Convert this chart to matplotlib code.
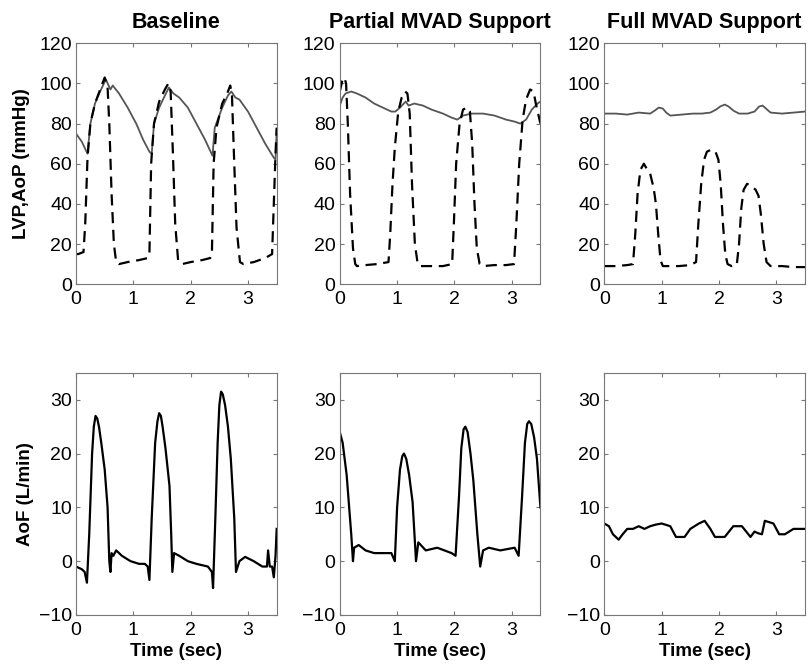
import numpy as np
import matplotlib.pyplot as plt

plt.rcParams['font.family'] = ['Liberation Sans', 'DejaVu Sans']

titles = ["Baseline", "Partial MVAD Support", "Full MVAD Support"]

# pressure traces (top row): time (s), LVP (dashed), AoP (grey)
lvp_t = [
    [0.0, 0.04, 0.13, 0.16, 0.2, 0.25, 0.33, 0.42, 0.5, 0.55, 0.58, 0.62, 0.66, 0.7, 0.75, 0.9, 1.1, 1.25, 1.28,
     1.31, 1.36, 1.45, 1.55, 1.61, 1.65, 1.69, 1.73, 1.78, 1.85, 2.0, 2.2, 2.34, 2.37, 2.4, 2.45, 2.55, 2.65,
     2.69, 2.72, 2.76, 2.8, 2.86, 2.92, 3.1, 3.3, 3.42, 3.45, 3.48, 3.5],
    [0.0, 0.04, 0.08, 0.11, 0.14, 0.18, 0.23, 0.27, 0.3, 0.45, 0.65, 0.85, 0.88, 0.92, 0.96, 1.02, 1.08, 1.14,
     1.18, 1.22, 1.26, 1.31, 1.36, 1.41, 1.45, 1.6, 1.8, 1.96, 1.99, 2.03, 2.09, 2.15, 2.22, 2.27, 2.31, 2.35,
     2.39, 2.44, 2.5, 2.7, 2.9, 3.04, 3.08, 3.13, 3.19, 3.25, 3.32, 3.38, 3.42, 3.46, 3.5],
    [0.0, 0.2, 0.4, 0.5, 0.54, 0.58, 0.63, 0.69, 0.73, 0.8, 0.86, 0.9, 0.94, 0.98, 1.02, 1.1, 1.3, 1.5, 1.6,
     1.64, 1.69, 1.74, 1.79, 1.86, 1.94, 1.99, 2.03, 2.07, 2.11, 2.15, 2.22, 2.31, 2.35, 2.39, 2.43, 2.49,
     2.56, 2.64, 2.69, 2.73, 2.78, 2.83, 2.9, 3.1, 3.3, 3.5],
]
lvp_p = [
    [15, 15, 16, 30, 63, 80, 90, 97, 103, 98, 80, 45, 20, 11, 10, 11, 12, 13, 15,
     60, 80, 91, 97, 100, 96, 65, 30, 12, 10, 11, 12, 13, 15, 60, 78, 90, 96,
     99, 94, 60, 28, 11, 10, 11, 13, 15, 40, 65, 78],
    [96, 101, 103, 100, 80, 45, 18, 10, 9, 9.5, 10, 11, 25, 50, 68, 86, 93, 96,
     95, 85, 50, 20, 10, 9, 9, 9, 9, 10, 30, 60, 80, 87, 88, 86, 70,
     40, 18, 10, 9, 9.5, 9.5, 10, 30, 60, 82, 92, 97, 96, 90, 85, 80],
    [9, 9, 9.5, 10, 25, 45, 57, 60, 58, 55, 48, 40, 25, 12, 9, 9, 9, 9.5, 11,
     30, 50, 62, 66, 67, 66, 62, 50, 30, 15, 10, 9, 9.5, 20, 38, 47, 50,
     49, 47, 44, 35, 20, 11, 9, 9, 8.5, 8.5],
]
aop_t = [
    [0.0, 0.1, 0.2, 0.25, 0.33, 0.42, 0.52, 0.6, 0.64, 0.75, 0.9, 1.05, 1.17, 1.28, 1.32, 1.36, 1.45, 1.55, 1.62,
     1.7, 1.8, 1.95, 2.1, 2.25, 2.38, 2.42, 2.55, 2.65, 2.71, 2.78, 2.85, 3.0, 3.15, 3.3, 3.45, 3.48, 3.5],
    [0.0, 0.05, 0.1, 0.2, 0.3, 0.45, 0.6, 0.75, 0.9, 0.97, 1.05, 1.15, 1.2, 1.3, 1.45, 1.6, 1.8, 1.95, 2.05,
     2.15, 2.3, 2.5, 2.7, 2.9, 3.05, 3.15, 3.25, 3.35, 3.45, 3.5],
    [0.0, 0.2, 0.4, 0.6, 0.8, 0.88, 0.95, 1.02, 1.08, 1.15, 1.35, 1.55, 1.7, 1.85, 1.95, 2.02, 2.1, 2.17, 2.25,
     2.35, 2.5, 2.62, 2.7, 2.76, 2.82, 2.9, 3.1, 3.3, 3.5],
]
aop_p = [
    [75, 71, 65, 80, 90, 96, 102, 97, 99, 95, 88, 80, 72, 66, 65, 80, 88, 94, 98,
     95, 93, 88, 80, 72, 64, 78, 88, 94, 96, 93, 92, 86, 78, 70, 63, 62, 77],
    [89, 93, 95, 96, 95, 93, 90, 88, 86, 86, 88, 91, 89, 90, 89, 87, 85, 83, 82,
     84, 85, 85, 84, 82, 81, 80, 82, 87, 90, 91],
    [85, 85, 84.5, 85.5, 85, 86.5, 88, 87.5, 85.5, 84, 84.5, 85, 85, 85.5, 87, 88.5, 89.5, 88.5, 86.5,
     85, 85, 86, 88.5, 89, 87.5, 85.5, 85, 85.5, 86],
]

# aortic flow (bottom row)
aof_t = [
    [0.0, 0.1, 0.15, 0.19, 0.23, 0.28, 0.31, 0.34, 0.37, 0.4, 0.44, 0.5, 0.55, 0.58, 0.6, 0.62, 0.65, 0.7, 0.8,
     0.95, 1.1, 1.2, 1.25, 1.28, 1.32, 1.38, 1.42, 1.45, 1.48, 1.51, 1.56, 1.63, 1.66, 1.68, 1.71, 1.8, 1.95,
     2.1, 2.3, 2.37, 2.39, 2.43, 2.47, 2.5, 2.53, 2.56, 2.6, 2.65, 2.7, 2.76, 2.79, 2.85, 2.95, 3.1, 3.25,
     3.33, 3.35, 3.38, 3.42, 3.45, 3.48, 3.5],
    [0.0, 0.05, 0.12, 0.2, 0.23, 0.25, 0.33, 0.45, 0.6, 0.8, 0.9, 0.96, 1.0, 1.05, 1.09, 1.12, 1.16, 1.21,
     1.27, 1.33, 1.37, 1.5, 1.7, 1.95, 2.02, 2.08, 2.12, 2.16, 2.19, 2.23, 2.28, 2.33, 2.4, 2.45, 2.5, 2.6,
     2.8, 3.05, 3.12, 3.18, 3.23, 3.27, 3.3, 3.34, 3.39, 3.44, 3.5],
    [0.0, 0.08, 0.15, 0.25, 0.32, 0.4, 0.5, 0.6, 0.7, 0.8, 0.9, 1.0, 1.15, 1.25, 1.4, 1.5, 1.65, 1.75, 1.85,
     1.93, 2.1, 2.25, 2.4, 2.55, 2.62, 2.68, 2.75, 2.8, 2.95, 3.05, 3.15, 3.3, 3.5],
]
aof_v = [
    [-1, -1.5, -2, -4, 5, 20, 25, 27, 26.5, 25, 22, 17, 10, 0, -2, 1.5, 1, 2, 1,
     0, -0.5, -0.5, -1, -3.5, 8, 22, 26, 27.5, 27, 25, 21, 14, 5, -2, 1.5, 1, 0,
     -0.5, -1, -2, -5, 8, 22, 29, 31.5, 31, 29, 25, 19, 8, -2, 0, 0.8, 0, -1,
     -1, 2, -1, -1, -3, 1, 6],
    [24, 22, 16, 5, 0, 2.5, 3, 2, 1.5, 1.5, 1.5, 0, 10, 17, 19.5, 20, 19, 16,
     11, 0, 3.5, 2, 2.5, 1.5, 1, 12, 21, 24.5, 25, 24, 20, 15, 5, -1, 2, 2.5,
     2, 2.5, 1, 12, 22, 25.5, 26, 25.5, 23, 19, 10],
    [7, 6.5, 5, 4, 5, 6, 6, 6.5, 6, 6.5, 6.8, 7, 6.5, 4.5, 4.5, 6, 7, 7.5, 6,
     4.5, 4.5, 6.5, 6.5, 4.5, 5.5, 5.2, 5, 7.5, 7, 5, 5, 6, 6],
]

fig = plt.figure(figsize=(8.09, 6.67), dpi=100)
lefts = [0.094, 0.420, 0.747]
w = 0.248

def style(ax):
    ax.set_xlim(0, 3.5)
    ax.set_xticks([0, 1, 2, 3])
    ax.tick_params(direction='in', top=True, right=True, labelsize=14, length=3,
                   color='#777777')
    ax.tick_params(axis='x', pad=5)
    ax.tick_params(axis='y', pad=3)
    for s in ax.spines.values():
        s.set_color('#777777')

for i in range(3):
    ax = fig.add_axes([lefts[i], 0.574, w, 0.361])
    ax.plot(aop_t[i], aop_p[i], color='#555555', lw=1.3)
    ax.plot(lvp_t[i], lvp_p[i], color='black', lw=1.6, dashes=(5, 3))
    ax.set_ylim(0, 120)
    ax.set_yticks(range(0, 121, 20))
    style(ax)
    ax.set_title(titles[i], fontsize=15.5, fontweight='bold', pad=11)
    if i == 0:
        ax.set_ylabel("LVP,AoP (mmHg)", fontsize=13.5, fontweight='bold')
        ax.yaxis.set_label_coords(-0.23, 0.5)

    ax2 = fig.add_axes([lefts[i], 0.078, w, 0.363])
    ax2.plot(aof_t[i], aof_v[i], color='black', lw=1.6)
    ax2.set_ylim(-10, 35)
    ax2.set_yticks([-10, 0, 10, 20, 30])
    style(ax2)
    ax2.set_xlabel("Time (sec)", fontsize=13.5, fontweight='bold')
    ax2.xaxis.set_label_coords(0.5, -0.115)
    if i == 0:
        ax2.set_ylabel("AoF (L/min)", fontsize=13.5, fontweight='bold')
        ax2.yaxis.set_label_coords(-0.21, 0.5)

fig.savefig("out.png", dpi=100)
